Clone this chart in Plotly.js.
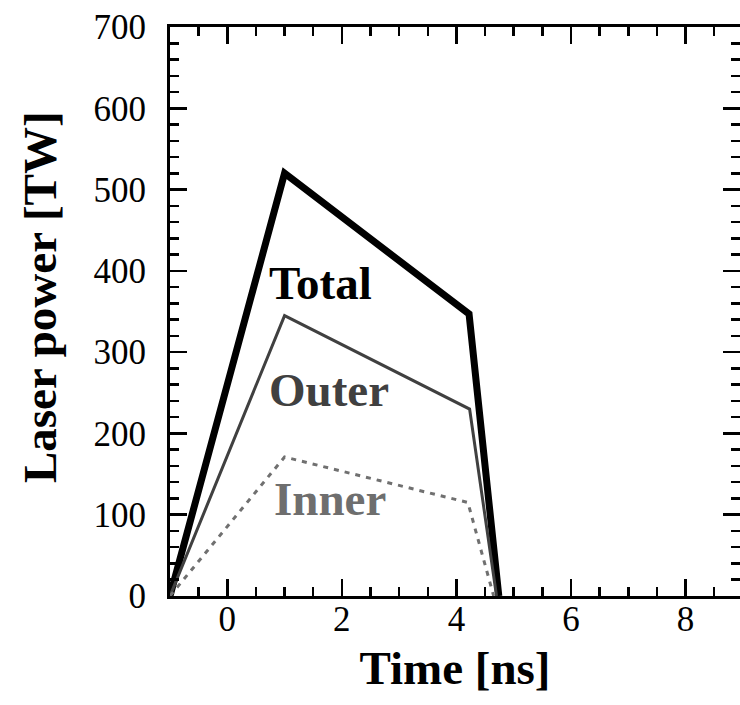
<!DOCTYPE html>
<html>
<head>
<meta charset="utf-8">
<script src="https://cdn.plot.ly/plotly-3.0.1.min.js"></script>
<style>html,body{margin:0;padding:0;background:#fff;} #chart{width:740px;height:705px;}</style>
</head>
<body>
<div id="chart"></div>
<script>
// Time [ns]
const totalTime = [-1, 1.0, 4.22, 4.74];
const totalPower = [0, 520, 347, 0];
const outerTime = [-1, 1.0, 4.23, 4.70];
const outerPower = [0, 345, 230, 0];
const innerTime = [-1, 1.0, 4.2, 4.65];
const innerPower = [0, 171, 115, 0];

const seriesNames = ['Total', 'Outer', 'Inner'];
const labelX = [0.70, 0.70, 0.785];
const labelY = [385, 254, 119];
const labelColors = ['#000000', '#404040', '#6e6e6e'];

const xTickVals = [0, 2, 4, 6, 8];
const yTickVals = [0, 100, 200, 300, 400, 500, 600, 700];

const serif = 'Liberation Serif, Times New Roman, serif';

const traces = [
  {x: totalTime, y: totalPower, mode: 'lines', name: seriesNames[0],
   line: {color: '#000000', width: 7}},
  {x: outerTime, y: outerPower, mode: 'lines', name: seriesNames[1],
   line: {color: '#404040', width: 3}},
  {x: innerTime, y: innerPower, mode: 'lines', name: seriesNames[2],
   line: {color: '#707070', width: 3, dash: '5px,6px'}}
];

const annotations = seriesNames.map((n, i) => ({
  text: n, x: labelX[i], y: labelY[i], xref: 'x', yref: 'y',
  xanchor: 'left', yanchor: 'middle', showarrow: false,
  font: {family: serif, size: 47, weight: 'bold', color: labelColors[i]}
}));
annotations.push({
  text: 'Laser power [TW]', textangle: -90, xref: 'paper', yref: 'paper',
  x: -0.228, y: 0.5255, xanchor: 'center', yanchor: 'middle', showarrow: false,
  font: {family: serif, size: 47, weight: 'bold', color: '#000'}
});

const axisCommon = {
  showline: true, linecolor: '#000', linewidth: 3, mirror: 'allticks',
  ticks: 'inside', ticklen: 17, tickwidth: 2.5, tickcolor: '#000',
  showgrid: false, zeroline: false,
  tickfont: {family: serif, size: 35, color: '#000'}
};

const layout = {
  width: 740, height: 705,
  margin: {l: 170, r: 0, t: 27, b: 109},
  paper_bgcolor: '#fff', plot_bgcolor: '#fff',
  showlegend: false,
  xaxis: Object.assign({}, axisCommon, {
    range: [-1, 8.95], tickvals: xTickVals, ticktext: xTickVals.map(String),
    minor: {dtick: 0.5, tick0: 0, ticks: 'inside', ticklen: 9, tickwidth: 2.5, tickcolor: '#000', showgrid: false},
    ticklabelstandoff: -10,
    title: {text: 'Time [ns]', standoff: 14, font: {family: serif, size: 47, weight: 'bold', color: '#000'}}
  }),
  yaxis: Object.assign({}, axisCommon, {
    range: [0, 700], tickvals: yTickVals, ticktext: yTickVals.map(String),
    minor: {dtick: 20, tick0: 0, ticks: 'inside', ticklen: 9, tickwidth: 2.5, tickcolor: '#000', showgrid: false},
    ticklabelstandoff: 14
  }),
  annotations: annotations
};

Plotly.newPlot('chart', traces, layout, {displayModeBar: false, staticPlot: true});
</script>
</body>
</html>
